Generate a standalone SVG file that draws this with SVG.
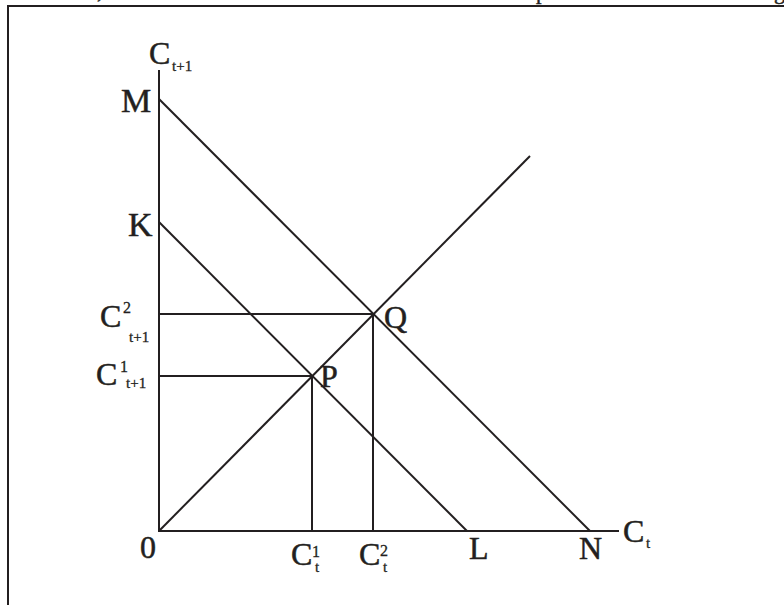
<svg xmlns="http://www.w3.org/2000/svg" width="784" height="605" viewBox="0 0 784 605">
<style>
.ln{stroke:#231f20;stroke-width:2;fill:none;stroke-linecap:butt}
.t{font-family:"Liberation Serif","Times New Roman",serif;fill:#231f20;stroke:#231f20;stroke-width:0.5}
.big{font-size:32px}
.sm{font-size:15px;stroke-width:0.3}
.sup{font-size:16px;stroke-width:0.3}
</style>
<rect width="784" height="605" fill="#ffffff"/>
<g id="page-text">
<text class="t" x="97" y="-2" font-size="22">,</text>
<text class="t" x="536" y="-1" font-size="22">p</text>
<text class="t" x="774" y="-1" font-size="22">g</text>
</g>
<g id="frame">
<path class="ln" d="M7,6 H784 M8,6 V605"/>
</g>
<g id="connectors">
<path class="ln" d="M159,70 V531 H619"/>
<path class="ln" d="M159,99 L590,531"/>
<path class="ln" d="M159,222 L467,531"/>
<path class="ln" d="M159,531 L530,156"/>
<path class="ln" d="M159,314 H373 V531"/>
<path class="ln" d="M159,376 H312 V531"/>
</g>
<g id="label-Ct1-axis"><text class="t big" x="149" y="64">C</text><text class="t sm" x="172" y="71">t+1</text></g>
<g id="node-M"><text class="t" x="121" y="112" font-size="34">M</text></g>
<g id="node-K"><text class="t" x="128" y="236" font-size="34">K</text></g>
<g id="label-C2t1"><text class="t big" x="100" y="327">C</text><text class="t sup" x="123" y="313">2</text><text class="t sm" x="129" y="342">t+1</text></g>
<g id="label-C1t1"><text class="t big" x="96" y="385">C</text><text class="t sup" x="120" y="372">1</text><text class="t sm" x="126" y="388">t+1</text></g>
<g id="node-Q"><text class="t big" x="384" y="328">Q</text></g>
<g id="node-P"><text class="t big" x="320" y="387">P</text></g>
<g id="node-0"><text class="t big" x="140" y="558">0</text></g>
<g id="label-C1t"><text class="t big" x="291" y="565">C</text><text class="t sup" x="312" y="557">1</text><text class="t sm" x="315" y="572">t</text></g>
<g id="label-C2t"><text class="t big" x="359" y="565">C</text><text class="t sup" x="380" y="556">2</text><text class="t sm" x="383" y="572">t</text></g>
<g id="node-L"><text class="t big" x="469" y="559">L</text></g>
<g id="node-N"><text class="t big" x="579" y="559">N</text></g>
<g id="label-Ct-axis"><text class="t big" x="623" y="542">C</text><text class="t sm" x="646" y="548">t</text></g>
</svg>
